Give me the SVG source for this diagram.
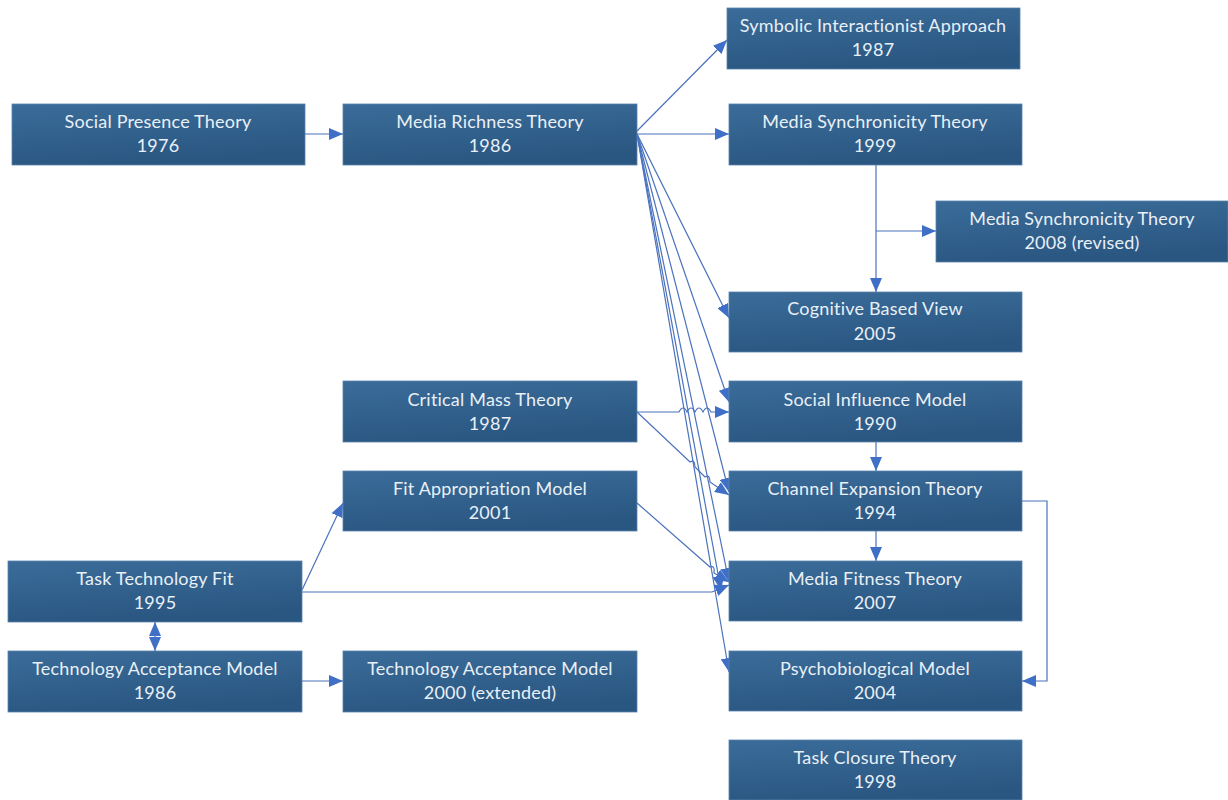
<svg xmlns="http://www.w3.org/2000/svg" width="1228" height="800" viewBox="0 0 1228 800">
<style>
.n rect{fill:url(#g);stroke:#5a83ad;stroke-width:0.8}
.n text{font-family:Lato,"Liberation Sans",sans-serif;font-size:18px;letter-spacing:0.2px;fill:#e9f0f7;text-anchor:middle}
.c path,.c line{fill:none;stroke:#4a72bd;stroke-width:1.2}
.a{marker-end:url(#ah)}
</style>
<defs>
<linearGradient id="g" x1="0" y1="0" x2="0.3" y2="1">
<stop offset="0" stop-color="#3b6c99"/>
<stop offset="1" stop-color="#2a5782"/>
</linearGradient>
<marker id="ah" viewBox="0 0 14 12" refX="14" refY="6" markerWidth="14" markerHeight="12" markerUnits="userSpaceOnUse" orient="auto">
<path d="M0,0 L14,6 L0,12 Z" fill="#3f6fc6"/>
</marker>
<marker id="as" viewBox="0 0 14 12" refX="0" refY="6" markerWidth="14" markerHeight="12" markerUnits="userSpaceOnUse" orient="auto">
<path d="M14,0 L0,6 L14,12 Z" fill="#3f6fc6"/>
</marker>
</defs>
<rect width="1228" height="800" fill="#ffffff"/>
<g class="c" id="connectors">
<line class="a" x1="305" y1="134" x2="343" y2="134"/>
<line class="a" x1="637" y1="131" x2="727" y2="40"/>
<line class="a" x1="637" y1="134" x2="729" y2="134"/>
<line class="a" x1="876" y1="165" x2="876" y2="292"/>
<line class="a" x1="876" y1="231" x2="936" y2="231"/>
<line class="a" x1="637" y1="134" x2="729" y2="318"/>
<line class="a" x1="637" y1="134" x2="729" y2="402"/>
<line class="a" x1="637" y1="134" x2="729" y2="492"/>
<line class="a" x1="637" y1="134" x2="729" y2="582"/>
<line class="a" x1="637" y1="134" x2="721" y2="590"/>
<line class="a" x1="637" y1="134" x2="729" y2="672"/>
<path class="a" d="M637,412 L679,412 q4,-8 8,0 q4,-8 8,0 q4,-8 8,0 q4,-8 8,0 L729,412"/>
<path class="a" d="M637,412 L690,462 q5,-3 5,5 L705,477 q5,-3 5,5 L729,495"/>
<line class="a" x1="876" y1="442" x2="876" y2="471"/>
<line class="a" x1="876" y1="531" x2="876" y2="561"/>
<path class="a" d="M1022,501 L1047,501 L1047,681 L1022,681"/>
<path class="a" d="M637,503 L710,567 q5,-2 4,6 L729,582"/>
<line class="a" x1="302" y1="590" x2="343" y2="503"/>
<path class="a" d="M302,592 L712,592 L729,585"/>
<line style="marker-end:url(#ah);marker-start:url(#as)" x1="155" y1="622" x2="155" y2="651"/>
<line class="a" x1="302" y1="681" x2="343" y2="681"/>
</g>
<g class="n" id="social-presence"><rect x="12" y="104" width="293" height="61"/><text x="158" y="128">Social Presence Theory</text><text x="158" y="152">1976</text></g>
<g class="n" id="media-richness"><rect x="343" y="104" width="294" height="61"/><text x="490" y="128">Media Richness Theory</text><text x="490" y="152">1986</text></g>
<g class="n" id="symbolic"><rect x="727" y="8" width="293" height="61"/><text x="873" y="32">Symbolic Interactionist Approach</text><text x="873" y="56">1987</text></g>
<g class="n" id="mst1999"><rect x="729" y="104" width="293" height="61"/><text x="875" y="128">Media Synchronicity Theory</text><text x="875" y="152">1999</text></g>
<g class="n" id="mst2008"><rect x="936" y="201" width="292" height="61"/><text x="1082" y="225">Media Synchronicity Theory</text><text x="1082" y="249">2008 (revised)</text></g>
<g class="n" id="cognitive"><rect x="729" y="292" width="293" height="60"/><text x="875" y="315">Cognitive Based View</text><text x="875" y="340">2005</text></g>
<g class="n" id="social-influence"><rect x="729" y="381" width="293" height="61"/><text x="875" y="406">Social Influence Model</text><text x="875" y="430">1990</text></g>
<g class="n" id="channel-expansion"><rect x="729" y="471" width="293" height="60"/><text x="875" y="495">Channel Expansion Theory</text><text x="875" y="519">1994</text></g>
<g class="n" id="media-fitness"><rect x="729" y="561" width="293" height="60"/><text x="875" y="585">Media Fitness Theory</text><text x="875" y="609">2007</text></g>
<g class="n" id="psychobiological"><rect x="729" y="651" width="293" height="60"/><text x="875" y="675">Psychobiological Model</text><text x="875" y="699">2004</text></g>
<g class="n" id="task-closure"><rect x="729" y="740" width="293" height="60"/><text x="875" y="764">Task Closure Theory</text><text x="875" y="788">1998</text></g>
<g class="n" id="critical-mass"><rect x="343" y="381" width="294" height="61"/><text x="490" y="406">Critical Mass Theory</text><text x="490" y="430">1987</text></g>
<g class="n" id="fit-appropriation"><rect x="343" y="471" width="294" height="60"/><text x="490" y="495">Fit Appropriation Model</text><text x="490" y="519">2001</text></g>
<g class="n" id="task-tech-fit"><rect x="8" y="561" width="294" height="61"/><text x="155" y="585">Task Technology Fit</text><text x="155" y="609">1995</text></g>
<g class="n" id="tam1986"><rect x="8" y="651" width="294" height="61"/><text x="155" y="675">Technology Acceptance Model</text><text x="155" y="699">1986</text></g>
<g class="n" id="tam2000"><rect x="343" y="651" width="294" height="61"/><text x="490" y="675">Technology Acceptance Model</text><text x="490" y="699">2000 (extended)</text></g>
</svg>
